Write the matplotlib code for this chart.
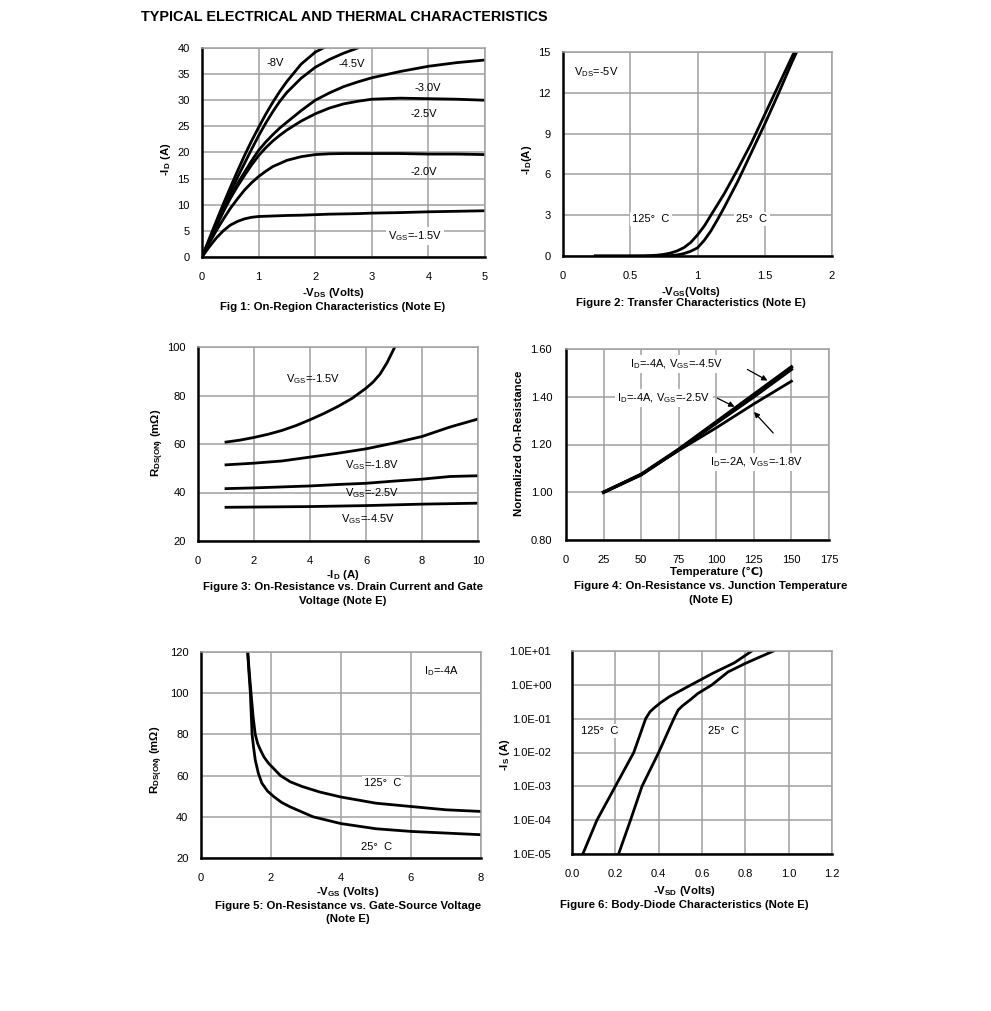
import numpy as np
import matplotlib
matplotlib.use("Agg")
import matplotlib.pyplot as plt

plt.rcParams['font.family'] = ['Liberation Sans', 'DejaVu Sans']
plt.rcParams['mathtext.fontset'] = 'custom'
plt.rcParams['mathtext.rm'] = 'Liberation Sans'
plt.rcParams['mathtext.bf'] = 'Liberation Sans:bold'

# ---- Fig 1: output characteristics
vds = [0, 0.125, 0.25, 0.375, 0.5, 0.625, 0.75, 0.875, 1, 1.125, 1.25, 1.375,
       1.5, 1.75, 2, 2.25, 2.5, 2.75, 3, 3.5, 4, 4.5, 5]
id_15 = [0, 1.9, 3.6, 5.0, 6.1, 6.8, 7.3, 7.6, 7.75, 7.8, 7.85, 7.9,
         7.95, 8.0, 8.1, 8.2, 8.25, 8.3, 8.4, 8.5, 8.65, 8.75, 8.85]
id_20 = [0, 2.6, 5.0, 7.2, 9.3, 11.1, 12.8, 14.2, 15.4, 16.4, 17.3, 17.9,
         18.5, 19.2, 19.6, 19.75, 19.8, 19.8, 19.8, 19.8, 19.7, 19.7, 19.6]
id_25 = [0, 2.9, 5.8, 8.6, 11.2, 13.5, 15.6, 17.6, 19.4, 20.9, 22.2, 23.3,
         24.3, 26.0, 27.4, 28.5, 29.3, 29.8, 30.2, 30.4, 30.3, 30.2, 30.0]
id_30 = [0, 3.0, 6.0, 8.9, 11.6, 14.0, 16.2, 18.4, 20.4, 22.0, 23.4, 24.7,
         25.8, 28.0, 30.0, 31.4, 32.6, 33.5, 34.3, 35.5, 36.5, 37.2, 37.7]
vds_45 = [0, 0.125, 0.25, 0.375, 0.5, 0.625, 0.75, 0.875, 1, 1.125, 1.25, 1.375,
          1.5, 1.75, 2, 2.25, 2.5, 2.75]
id_45 = [0, 3.2, 6.3, 9.4, 12.3, 15.2, 17.9, 20.6, 23.2, 25.6, 27.8, 29.8,
         31.5, 34.2, 36.3, 37.8, 39.0, 40.0]
vds_80 = [0, 0.125, 0.25, 0.375, 0.5, 0.625, 0.75, 0.875, 1, 1.125, 1.25, 1.375,
          1.5, 1.75, 2, 2.25]
id_80 = [0, 3.4, 6.8, 10.1, 13.3, 16.4, 19.4, 22.2, 24.8, 27.3, 29.6, 31.7,
         33.6, 36.9, 39.2, 40.6]

# ---- Fig 2: transfer
vgs_t125 = [0.24, 0.5, 0.6, 0.65, 0.7, 0.75, 0.8, 0.85, 0.9, 0.95, 1.0, 1.05,
            1.1, 1.15, 1.2, 1.3, 1.4, 1.5, 1.6, 1.7, 1.75]
id_t125 = [0, 0, 0.01, 0.03, 0.06, 0.12, 0.22, 0.38, 0.62, 1.0, 1.55, 2.2,
           3.0, 3.8, 4.6, 6.4, 8.3, 10.4, 12.5, 14.6, 15.6]
vgs_t25 = [0.24, 0.5, 0.7, 0.75, 0.8, 0.85, 0.9, 0.95, 1.0, 1.05, 1.1, 1.15,
           1.2, 1.3, 1.4, 1.5, 1.6, 1.7, 1.77]
id_t25 = [0, 0, 0, 0.01, 0.03, 0.08, 0.18, 0.35, 0.6, 1.15, 1.85, 2.7,
          3.6, 5.5, 7.6, 9.7, 11.9, 14.2, 15.7]

# ---- Fig 3: Rds(on) vs Id
id3 = [1, 2, 3, 4, 5, 6, 7, 8, 9, 10]
id3_15 = [1, 1.5, 2, 2.5, 3, 3.5, 4, 4.5, 5, 5.5, 6, 6.25, 6.5, 6.75, 7.05]
r3_15 = [60.8, 61.6, 62.7, 64, 65.6, 67.6, 70, 72.6, 75.5, 78.8, 83, 85.5,
         88.8, 93.5, 100.5]
r3_18 = [51.4, 52.1, 53, 54.6, 56.2, 58, 60.4, 63.1, 67, 70.3]
r3_25 = [41.6, 41.9, 42.3, 42.7, 43.3, 43.8, 44.7, 45.5, 46.6, 46.9]
r3_45 = [33.9, 34.0, 34.1, 34.2, 34.4, 34.6, 34.9, 35.2, 35.4, 35.6]

# ---- Fig 4: normalized Rds(on) vs temperature
temp = [25, 50, 75, 100, 125, 150]
n_45 = [1.0, 1.075, 1.18, 1.295, 1.41, 1.525]
n_25 = [1.0, 1.073, 1.178, 1.29, 1.40, 1.515]
n_18 = [1.0, 1.075, 1.175, 1.27, 1.37, 1.465]

# ---- Fig 5: Rds(on) vs Vgs
vgs5_125 = [1.33, 1.38, 1.43, 1.49, 1.55, 1.62, 1.70, 1.8, 1.93, 2.1, 2.27,
            2.55, 2.89, 3.4, 4, 5, 6, 7, 8]
r5_125 = [121, 110, 100, 88.4, 80, 75.5, 72.4, 69, 66, 63, 60,
          57, 54.7, 52, 49.6, 46.6, 45, 43.4, 42.6]
vgs5_25 = [1.33, 1.37, 1.41, 1.44, 1.46, 1.50, 1.55, 1.64, 1.74, 1.9, 2.08,
           2.3, 2.55, 3.2, 4, 5, 6, 7, 8]
r5_25 = [121, 110, 100, 88, 80, 74, 67.6, 61, 56.3, 52.5, 49.8,
         47, 44.8, 40, 36.7, 34.2, 32.9, 32.1, 31.3]

# ---- Fig 6: body diode
vsd_125 = [0.05, 0.115, 0.2, 0.285, 0.34, 0.36, 0.38, 0.41, 0.45, 0.55, 0.65, 0.75, 0.83]
is_125 = [1e-5, 1e-4, 1e-3, 1e-2, 0.1, 0.16, 0.21, 0.3, 0.45, 1.0, 2.2, 4.5, 10]
vsd_25 = [0.215, 0.27, 0.323, 0.4, 0.47, 0.49, 0.51, 0.55, 0.58, 0.646, 0.72, 0.8, 0.93]
is_25 = [1e-5, 1e-4, 1e-3, 1e-2, 0.1, 0.18, 0.24, 0.38, 0.55, 1.0, 2.4, 4.3, 10]

W, H = 991, 1011
fig = plt.figure(figsize=(W / 100, H / 100), dpi=100)

def px(x, y):
    return x / W, 1 - y / H

def make_ax(l, t, r, b, xlim, ylim, xticks, yticks, ypad=9, log=False):
    ax = fig.add_axes([l / W, 1 - b / H, (r - l) / W, (b - t) / H])
    if log:
        ax.set_yscale('log')
    ax.set_xlim(xlim)
    ax.set_ylim(ylim)
    ax.set_xticks(xticks)
    ax.set_yticks(yticks)
    ax.minorticks_off()
    ax.grid(True, color='#a0a0a0', lw=1.1)
    ax.set_axisbelow(True)
    for s in ['left', 'bottom']:
        ax.spines[s].set_color('black')
        ax.spines[s].set_linewidth(1.8)
    for s in ['top', 'right']:
        ax.spines[s].set_color('#a0a0a0')
        ax.spines[s].set_linewidth(1.1)
    ax.tick_params(length=0, labelsize=8)
    ax.tick_params(axis='y', pad=ypad)
    ax.tick_params(axis='x', pad=11)
    return ax

def ftext(x, y, s, **kw):
    kw.setdefault('ha', 'center')
    kw.setdefault('va', 'center')
    kw.setdefault('fontsize', 8.2)
    fig.text(*px(x, y), s, **kw)

lw = 2.0
wb = dict(facecolor='white', edgecolor='none', pad=1.5)

fig.text(*px(141, 17), "TYPICAL ELECTRICAL AND THERMAL CHARACTERISTICS",
         fontsize=10.4, fontweight='bold', ha='left', va='center')

# Fig 1
ax = make_ax(202, 48, 485, 257, (0, 5), (0, 40), range(0, 6), range(0, 41, 5))
for xs, ys in [(vds, id_15), (vds, id_20), (vds, id_25), (vds, id_30),
               (vds_45, id_45), (vds_80, id_80)]:
    ax.plot(xs, ys, color='black', lw=lw)
ax.text(1.29, 37.1, "-8V", fontsize=8, ha='center', va='center')
ax.text(2.65, 36.9, "-4.5V", fontsize=8, ha='center', va='center')
ax.text(3.98, 32.3, "-3.0V", fontsize=8, ha='center', va='center')
ax.text(3.92, 27.4, "-2.5V", fontsize=8, ha='center', va='center')
ax.text(3.92, 16.3, "-2.0V", fontsize=8, ha='center', va='center')
ax.text(3.76, 4.0, "V$_\\mathrm{GS}$=-1.5V", fontsize=8, ha='center', va='center', bbox=wb)
ftext(166, 159, "-I$_\\mathbf{D}$ (A)", fontweight='bold', rotation=90)
ftext(333, 293, "-V$_\\mathbf{DS}$ (Volts)", fontweight='bold')
ftext(333, 307, "Fig 1: On-Region Characteristics (Note E)", fontweight='bold')

# Fig 2
ax = make_ax(563, 52, 832, 256, (0, 2), (0, 15), [0, 0.5, 1, 1.5, 2], range(0, 16, 3))
ax.set_xticklabels(["0", "0.5", "1", "1.5", "2"])
ax.plot(vgs_t125, id_t125, color='black', lw=lw)
ax.plot(vgs_t25, id_t25, color='black', lw=lw)
ax.text(0.245, 13.5, "V$_\\mathrm{DS}$=-5V", fontsize=8, ha='center', va='center', bbox=wb)
ax.text(0.654, 2.72, "125°  C", fontsize=8, ha='center', va='center', bbox=wb)
ax.text(1.405, 2.72, "25°  C", fontsize=8, ha='center', va='center', bbox=wb)
ftext(527, 160, "-I$_\\mathbf{D}$(A)", fontweight='bold', rotation=90)
ftext(691, 292, "-V$_\\mathbf{GS}$(Volts)", fontweight='bold')
ftext(691, 303, "Figure 2: Transfer Characteristics (Note E)", fontweight='bold')

# Fig 3
ax = make_ax(198, 347, 478, 541, (0, 10), (20, 100), range(0, 11, 2), range(20, 101, 20))
ax.plot(id3_15, r3_15, color='black', lw=lw)
ax.plot(id3, r3_18, color='black', lw=lw)
ax.plot(id3, r3_25, color='black', lw=lw)
ax.plot(id3, r3_45, color='black', lw=lw)
ax.text(4.11, 86.8, "V$_\\mathrm{GS}$=-1.5V", fontsize=8, ha='center', va='center')
ax.text(6.21, 51.3, "V$_\\mathrm{GS}$=-1.8V", fontsize=8, ha='center', va='center')
ax.text(6.21, 39.8, "V$_\\mathrm{GS}$=-2.5V", fontsize=8, ha='center', va='center')
ax.text(6.07, 29.1, "V$_\\mathrm{GS}$=-4.5V", fontsize=8, ha='center', va='center')
ftext(158, 443, "R$_\\mathbf{DS(ON)}$ (mΩ)", fontweight='bold', rotation=90)
ftext(343, 575, "-I$_\\mathbf{D}$ (A)", fontweight='bold')
ftext(343, 587, "Figure 3: On-Resistance vs. Drain Current and Gate", fontweight='bold')
ftext(343, 601, "Voltage (Note E)", fontweight='bold')

# Fig 4
ax = make_ax(566, 349, 829, 540, (0, 175), (0.8, 1.6), range(0, 176, 25),
             [0.8, 1.0, 1.2, 1.4, 1.6], ypad=10)
ax.set_yticklabels(["0.80", "1.00", "1.20", "1.40", "1.60"])
ax.plot(temp, n_45, color='black', lw=2.4)
ax.plot(temp, n_25, color='black', lw=2.4)
ax.plot(temp, n_18, color='black', lw=lw)
ax.text(73.9, 1.537, "I$_\\mathrm{D}$=-4A, V$_\\mathrm{GS}$=-4.5V", fontsize=8,
        ha='center', va='center', bbox=wb)
ax.text(65.2, 1.395, "I$_\\mathrm{D}$=-4A, V$_\\mathrm{GS}$=-2.5V", fontsize=8,
        ha='center', va='center', bbox=wb)
ax.text(127, 1.127, "I$_\\mathrm{D}$=-2A, V$_\\mathrm{GS}$=-1.8V", fontsize=8,
        ha='center', va='center', bbox=wb)
arr = dict(arrowstyle='-|>', color='black', lw=0.9, mutation_scale=8)
ax.annotate("", xy=(135.7, 1.462), xytext=(119.1, 1.520), arrowprops=arr)
ax.annotate("", xy=(113.8, 1.353), xytext=(99.1, 1.399), arrowprops=arr)
ax.annotate("", xy=(123.8, 1.345), xytext=(139.1, 1.240), arrowprops=arr)
ftext(519, 443, "Normalized On-Resistance", fontweight='bold', rotation=90)
ftext(716, 572, "Temperature (℃)", fontweight='bold')
ftext(711, 586, "Figure 4: On-Resistance vs. Junction Temperature", fontweight='bold')
ftext(711, 600, "(Note E)", fontweight='bold')

# Fig 5
ax = make_ax(201, 652, 481, 858, (0, 8), (20, 120), range(0, 9, 2), range(20, 121, 20))
ax.plot(vgs5_125, r5_125, color='black', lw=lw)
ax.plot(vgs5_25, r5_25, color='black', lw=lw)
ax.text(6.86, 110.8, "I$_\\mathrm{D}$=-4A", fontsize=8, ha='center', va='center')
ax.text(5.2, 56.4, "125°  C", fontsize=8, ha='center', va='center', bbox=wb)
ax.text(5.03, 25.3, "25°  C", fontsize=8, ha='center', va='center')
ftext(157, 760, "R$_\\mathbf{DS(ON)}$ (mΩ)", fontweight='bold', rotation=90)
ftext(348, 892, "-V$_\\mathbf{GS}$ (Volts)", fontweight='bold')
ftext(348, 906, "Figure 5: On-Resistance vs. Gate-Source Voltage", fontweight='bold')
ftext(348, 919, "(Note E)", fontweight='bold')

# Fig 6
ax = make_ax(572, 651, 832, 854, (0, 1.2), (1e-5, 10), np.arange(0, 1.21, 0.2),
             [1e-5, 1e-4, 1e-3, 1e-2, 1e-1, 1, 10], ypad=15, log=True)
ax.set_xticklabels(["0.0", "0.2", "0.4", "0.6", "0.8", "1.0", "1.2"])
ax.set_yticklabels(["1.0E-05", "1.0E-04", "1.0E-03", "1.0E-02", "1.0E-01",
                    "1.0E+00", "1.0E+01"])
ax.plot(vsd_125, is_125, color='black', lw=lw)
ax.plot(vsd_25, is_25, color='black', lw=lw)
ax.text(0.129, 0.0436, "125°  C", fontsize=8, ha='center', va='center', bbox=wb)
ax.text(0.70, 0.0436, "25°  C", fontsize=8, ha='center', va='center', bbox=wb)
ftext(505, 755, "-I$_\\mathbf{S}$ (A)", fontweight='bold', rotation=90)
ftext(684, 891, "-V$_\\mathbf{SD}$ (Volts)", fontweight='bold')
ftext(684, 905, "Figure 6: Body-Diode Characteristics (Note E)", fontweight='bold')

fig.savefig("out.png", dpi=100)
